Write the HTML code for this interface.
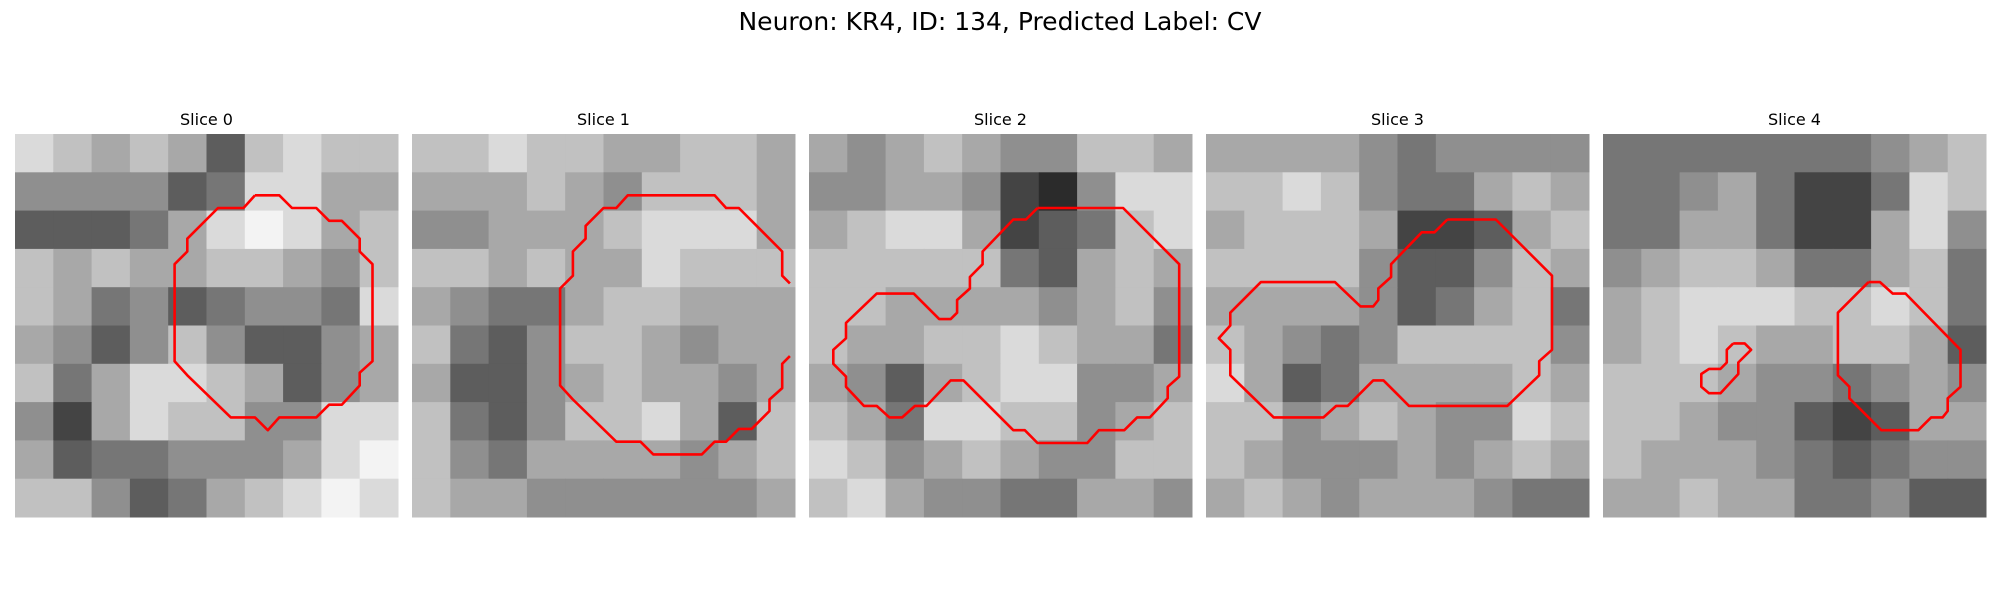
<!DOCTYPE html>
<html><head><meta charset="utf-8">
<style>
body{margin:0;background:#fff;width:2000px;height:600px;overflow:hidden;font-family:"Liberation Sans","DejaVu Sans",sans-serif;}
</style></head>
<body>
<svg id="fig" width="2000" height="600" xmlns="http://www.w3.org/2000/svg">
<text x="1000" y="30" text-anchor="middle" font-size="25" font-family="DejaVu Sans, Liberation Sans, sans-serif" fill="#000">Neuron: KR4, ID: 134, Predicted Label: CV</text>
</svg>
<script>
const sliceTitles = ["Slice 0","Slice 1","Slice 2","Slice 3","Slice 4"];
const grid0 = [[8,7,6,7,6,3,7,8,7,7],[5,5,5,5,3,4,8,8,6,6],[3,3,3,4,6,8,9,8,6,7],[7,6,7,6,6,7,7,6,5,7],[7,6,4,5,3,4,5,5,4,8],[6,5,3,5,7,5,3,3,5,6],[7,4,6,8,8,7,6,3,5,6],[5,2,6,8,7,7,5,5,8,8],[6,3,4,4,5,5,5,6,8,9],[7,7,5,3,4,6,7,8,9,8]];
const grid1 = [[7,7,8,7,7,6,6,7,7,6],[6,6,6,7,6,5,7,7,7,6],[5,5,6,6,6,7,8,8,8,6],[7,7,6,7,6,6,8,7,7,7],[6,5,4,4,6,7,7,6,6,6],[7,4,3,5,7,7,6,5,6,6],[6,3,3,5,6,7,6,6,5,6],[7,4,3,5,7,7,8,6,3,7],[7,5,4,6,6,6,6,5,6,7],[7,6,6,5,5,5,5,5,5,6]];
const grid2 = [[6,5,6,7,6,5,5,7,7,6],[5,5,6,6,5,2,1,5,8,8],[6,7,8,8,6,2,3,4,7,8],[7,7,7,7,7,4,3,6,7,6],[7,7,6,6,6,6,5,6,7,5],[7,6,6,7,7,8,7,6,6,4],[6,5,3,6,7,8,8,5,5,6],[7,6,4,8,8,7,7,5,6,7],[8,7,5,6,7,6,5,5,7,7],[7,8,6,5,5,4,4,6,6,5]];
const grid3 = [[6,6,6,6,5,4,5,5,5,5],[7,7,8,7,5,4,4,6,7,6],[6,7,7,7,6,2,2,3,6,7],[7,7,7,7,5,3,3,5,7,6],[6,6,6,6,5,3,4,6,7,4],[7,6,5,4,5,7,7,7,7,5],[8,6,3,4,6,6,6,6,7,6],[7,7,5,6,7,6,5,5,8,7],[7,6,5,5,5,6,5,6,7,6],[6,7,6,5,6,6,6,5,4,4]];
const grid4 = [[4,4,4,4,4,4,4,5,6,7],[4,4,5,6,4,2,2,4,8,7],[4,4,6,6,4,2,2,6,8,5],[5,6,7,7,6,4,4,6,7,4],[6,7,8,8,8,7,7,8,7,4],[6,7,8,7,6,6,7,7,6,3],[7,7,7,6,5,5,4,5,6,5],[7,7,6,5,5,3,2,3,6,6],[7,6,6,6,5,4,3,4,5,5],[6,6,7,6,6,4,4,5,3,3]];
const contour0 = [[[18.8,4.8],[20.7,4.8],[21.7,5.8],[23.6,5.8],[24.6,6.8],[25.6,6.8],[27,8.2],[27,9.2],[28,10.2],[28,17.8],[27,18.7],[27,19.7],[25.6,21.2],[24.6,21.2],[23.6,22.2],[20.7,22.2],[19.8,23.2],[18.8,22.2],[16.9,22.2],[13.5,18.9],[12.5,17.8],[12.5,10.2],[13.5,9.2],[13.5,8.2],[15.9,5.8],[17.9,5.8],[18.8,4.8]]];
const contour1 = [[[29.6,17.4],[29,18],[29,19.9],[28,20.8],[28,21.7],[26.6,23.1],[25.6,23.1],[24.6,24.1],[23.7,24.1],[22.7,25.1],[18.9,25.1],[17.9,24.1],[16,24.1],[12.6,20.8],[11.6,19.7],[11.6,12.1],[12.6,11.1],[12.6,9.2],[13.6,8.2],[13.6,7.2],[15,5.8],[16,5.8],[16.9,4.8],[23.7,4.8],[24.6,5.8],[25.6,5.8],[29,9.2],[29,11.1],[29.6,11.7]]];
const contour2 = [[[17.9,5.8],[24.6,5.8],[29,10.2],[29,19],[28.1,19.8],[28.1,20.7],[26.7,22.2],[25.7,22.2],[24.7,23.2],[22.7,23.2],[21.8,24.2],[17.9,24.2],[16.9,23.2],[16,23.2],[12.1,19.3],[11.1,19.3],[9.2,21.3],[8.3,21.3],[7.3,22.2],[6.3,22.2],[5.3,21.3],[4.3,21.3],[2.9,19.8],[2.9,19],[1.9,18],[1.9,16.9],[2.9,16],[2.9,14.8],[5.3,12.5],[8.2,12.5],[10.2,14.5],[11.1,14.5],[11.6,14],[11.6,13],[12.6,12.1],[12.6,11.2],[13.6,10.2],[13.6,9.2],[16,6.7],[17,6.7],[17.9,5.8]]];
const contour3 = [[[18.9,6.7],[22.7,6.7],[27.1,11.1],[27.1,16.9],[26.1,17.8],[26.1,18.9],[23.6,21.3],[15.9,21.3],[13.9,19.3],[13.1,19.3],[11.1,21.3],[10.2,21.3],[9.2,22.2],[5.3,22.2],[1.9,18.9],[1.9,16.9],[1,16],[1.9,15],[1.9,14],[4.3,11.6],[10.1,11.6],[12.1,13.5],[13.1,13.5],[13.5,13],[13.5,12.1],[14.5,11.2],[14.5,10.2],[16.9,7.7],[17.9,7.7],[18.9,6.7]]];
const contour4 = [[[20.8,11.6],[21.7,11.6],[22.7,12.5],[23.7,12.5],[28,16.9],[28,19.8],[27,20.7],[27,21.7],[26.6,22.2],[25.7,22.2],[24.7,23.2],[21.8,23.2],[19.3,20.7],[19.3,19.8],[18.4,18.9],[18.4,14],[20.8,11.6]],[[10.2,16.4],[11.1,16.4],[11.6,16.9],[10.6,17.9],[10.6,18.8],[9.2,20.3],[8.3,20.3],[7.7,19.8],[7.7,18.8],[8.3,18.4],[9.2,18.4],[9.7,17.9],[9.7,16.9],[10.2,16.4]]];

const grids=[grid0,grid1,grid2,grid3,grid4];
const contours=[contour0,contour1,contour2,contour3,contour4];
const NS="http://www.w3.org/2000/svg";
const svg=document.getElementById('fig');
const P0X=15, PSTEP=397, PY=134, PSIZE=383, DATA_N=30;
function sx(i,v){return P0X+PSTEP*i+v*PSIZE/DATA_N;}
function sy(v){return PY+v*PSIZE/DATA_N;}
function grayOf(v){const g=Math.round(18+v*25);return `rgb(${g},${g},${g})`;}
for(let i=0;i<5;i++){
  const g=document.createElementNS(NS,'g');
  
  
  svg.appendChild(g);
  const t=document.createElementNS(NS,'text');
  
  
  t.setAttribute('x',sx(i,DATA_N/2));t.setAttribute('y',PY-9);
  t.setAttribute('text-anchor','middle');t.setAttribute('font-size','16');
  t.setAttribute('font-family','DejaVu Sans, Liberation Sans, sans-serif');
  t.textContent=sliceTitles[i];g.appendChild(t);
  const grid=grids[i];const n=grid.length;const bs=DATA_N/n;
  for(let r=0;r<n;r++)for(let c=0;c<grid[r].length;c++){
    const rc=document.createElementNS(NS,'rect');
    
    
    rc.setAttribute('x',sx(i,c*bs));rc.setAttribute('y',sy(r*bs));
    rc.setAttribute('width',sx(i,(c+1)*bs)-sx(i,c*bs)+0.5);
    rc.setAttribute('height',sy((r+1)*bs)-sy(r*bs)+0.5);
    rc.setAttribute('fill',grayOf(grid[r][c]));
    g.appendChild(rc);
  }
  contours[i].forEach(pts=>{
    const pl=document.createElementNS(NS,'polyline');
    
    
    pl.setAttribute('points',pts.map(p=>sx(i,p[0]).toFixed(1)+','+sy(p[1]).toFixed(1)).join(' '));
    pl.setAttribute('fill','none');pl.setAttribute('stroke','#ff0000');
    pl.setAttribute('stroke-width','2.6');pl.setAttribute('stroke-linejoin','round');
    g.appendChild(pl);
  });
}
</script>
</body></html>
